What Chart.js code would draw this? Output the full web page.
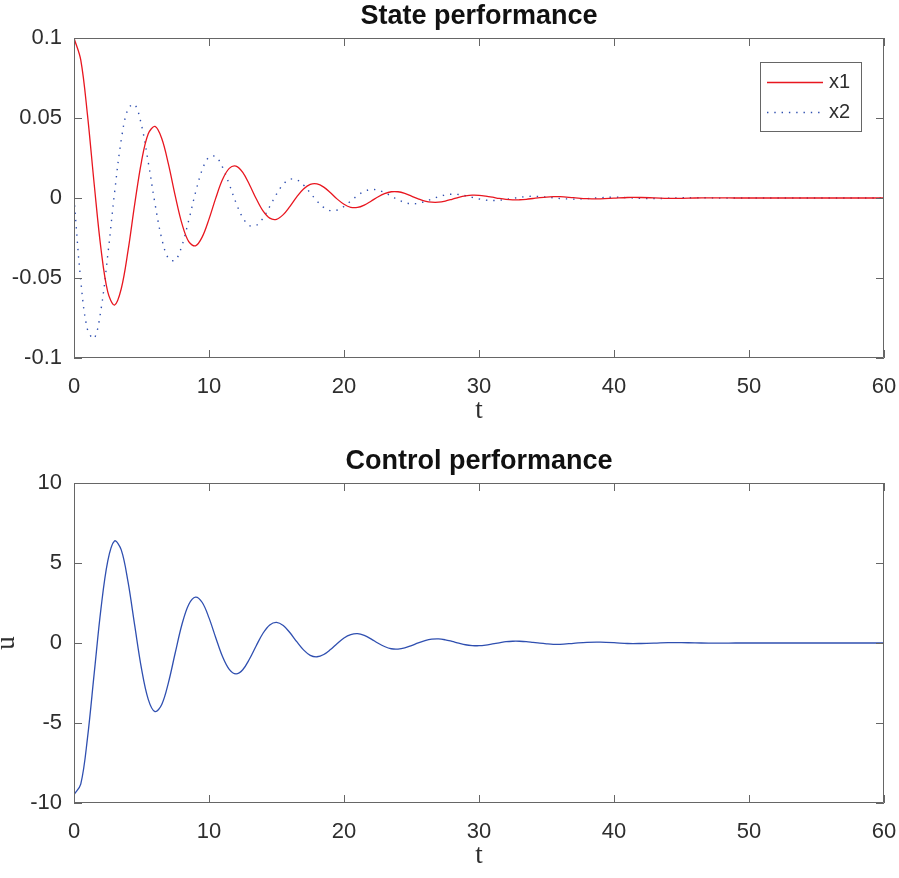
<!DOCTYPE html>
<html>
<head>
<meta charset="utf-8">
<title>State and control performance</title>
<script src="https://cdn.jsdelivr.net/npm/chart.js@4.4.0/dist/chart.umd.min.js"></script>
<style>
  html, body { margin: 0; padding: 0; background: #fff; overflow: hidden; }
  #wrap { position: relative; width: 899px; height: 878px; overflow: hidden; }
  canvas { position: absolute; left: 0; }
  #stateChart { top: 0; }
  #controlChart { top: 445px; }
</style>
</head>
<body>
<div id="wrap">
  <canvas id="stateChart" width="899" height="439"></canvas>
  <canvas id="controlChart" width="899" height="439"></canvas>
</div>
<script>
// simulation time (s)
const timeSec = [0, 0.5, 1, 1.5, 2, 2.5, 3, 3.5, 4, 4.5, 5, 5.5, 6, 6.5, 7, 7.5, 8, 8.5, 9, 9.5,
  10, 10.5, 11, 11.5, 12, 12.5, 13, 13.5, 14, 14.5, 15, 15.5, 16, 16.5, 17, 17.5, 18, 18.5, 19, 19.5,
  20, 20.5, 21, 21.5, 22, 22.5, 23, 23.5, 24, 24.5, 25, 25.5, 26, 26.5, 27, 27.5, 28, 28.5, 29, 29.5,
  30, 30.5, 31, 31.5, 32, 32.5, 33, 33.5, 34, 34.5, 35, 35.5, 36, 37, 38, 39, 40, 41, 42, 43, 44, 45,
  46, 47, 48, 49, 50, 51, 52, 53, 54, 55, 56, 57, 58, 59, 60];

// state x1
const x1 = [0.1000, 0.0863, 0.0518, 0.0083, -0.0319, -0.0587, -0.0669, -0.0567, -0.0331, -0.0037,
  0.0228, 0.0401, 0.0447, 0.0372, 0.0210, 0.0013, -0.0162, -0.0273, -0.0299, -0.0243,
  -0.0132, -0.0001, 0.0115, 0.0185, 0.0199, 0.0160, 0.0083, -0.0005, -0.0081, -0.0126,
  -0.0133, -0.0104, -0.0052, 0.0007, 0.0056, 0.0085, 0.0088, 0.0068, 0.0033, -0.0007,
  -0.0039, -0.0058, -0.0059, -0.0044, -0.0020, 0.0006, 0.0027, 0.0039, 0.0039, 0.0029,
  0.0012, -0.0005, -0.0019, -0.0026, -0.0026, -0.0019, -0.0008, 0.0004, 0.0013, 0.0018,
  0.0017, 0.0012, 0.0005, -0.0003, -0.0009, -0.0012, -0.0011, -0.0008, -0.0003, 0.0002,
  0.0006, 0.0008, 0.0008, 0.0002, -0.0004, -0.0005, -0.0001, 0.0003, 0.0003, 0.0001, -0.0002, -0.0002,
  0, 0.0001, 0.0001, 0, 0, 0, 0, 0, 0, 0, 0, 0, 0, 0, 0];

// state x2
const x2 = [0, -0.0515, -0.0822, -0.0877, -0.0697, -0.0358, 0.0030, 0.0363, 0.0557, 0.0584,
  0.0455, 0.0224, -0.0036, -0.0254, -0.0378, -0.0389, -0.0297, -0.0139, 0.0034, 0.0177,
  0.0256, 0.0258, 0.0193, 0.0086, -0.0030, -0.0123, -0.0173, -0.0171, -0.0126, -0.0053,
  0.0024, 0.0086, 0.0117, 0.0114, 0.0082, 0.0032, -0.0019, -0.0059, -0.0079, -0.0075,
  -0.0053, -0.0019, 0.0015, 0.0041, 0.0053, 0.0050, 0.0034, 0.0012, -0.0011, -0.0028,
  -0.0036, -0.0033, -0.0022, -0.0007, 0.0008, 0.0019, 0.0024, 0.0022, 0.0014, 0.0004,
  -0.0006, -0.0013, -0.0016, -0.0014, -0.0009, -0.0002, 0.0004, 0.0009, 0.0011, 0.0009,
  0.0006, 0.0001, -0.0003, -0.0007, -0.0004, 0.0002, 0.0005, 0.0002, -0.0002, -0.0003, -0.0002, 0.0001,
  0.0002, 0.0001, -0.0001, 0, 0, 0, 0, 0, 0, 0, 0, 0, 0, 0, 0];

// control input u
const u = [-9.48, -8.82, -5.93, -1.87, 2.16, 5.12, 6.38, 5.82, 3.83, 1.08,
  -1.60, -3.52, -4.29, -3.84, -2.46, -0.61, 1.17, 2.41, 2.87, 2.53,
  1.57, 0.33, -0.85, -1.65, -1.93, -1.67, -1.00, -0.17, 0.61, 1.13,
  1.29, 1.09, 0.64, 0.08, -0.43, -0.77, -0.86, -0.72, -0.41, -0.03,
  0.31, 0.52, 0.58, 0.47, 0.26, 0.00, -0.22, -0.36, -0.38, -0.31,
  -0.16, 0.01, 0.15, 0.24, 0.26, 0.20, 0.10, -0.01, -0.11, -0.16,
  -0.17, -0.13, -0.06, 0.01, 0.08, 0.11, 0.11, 0.09, 0.04, -0.01,
  -0.05, -0.08, -0.08, -0.02, 0.04, 0.05, 0.02, -0.03, -0.03, -0.01, 0.02, 0.02,
  0.01, -0.01, -0.01, 0, 0, 0, 0, 0, 0, 0, 0, 0, 0, 0, 0];

// axis ticks
const tTicks = [0, 10, 20, 30, 40, 50, 60];
const stateTicks = [-0.1, -0.05, 0, 0.05, 0.1];
const controlTicks = [-10, -5, 0, 5, 10];

const textColor = '#2e2e2e';
const titleColor = '#111111';
const axisColor = '#666666';
const sans = "'Liberation Sans', Arial, Helvetica, sans-serif";
const serif = "'Liberation Serif', 'Times New Roman', serif";

const pairs = (ys) => timeSec.map((t, i) => ({ x: t, y: ys[i] }));

// axes box with inward tick marks on all four sides
const boxTicks = {
  id: 'boxTicks',
  afterDatasetsDraw(chart) {
    const { ctx, chartArea: a, scales } = chart;
    const len = 8;
    ctx.save();
    ctx.strokeStyle = axisColor;
    ctx.lineWidth = 1;
    ctx.setLineDash([]);
    ctx.beginPath();
    ctx.rect(a.left + 0.5, a.top + 0.5, a.right - a.left - 1, a.bottom - a.top - 1);
    scales.x.ticks.forEach(t => {
      const px = Math.round(scales.x.getPixelForValue(t.value)) + 0.5;
      ctx.moveTo(px, a.bottom); ctx.lineTo(px, a.bottom - len);
      ctx.moveTo(px, a.top); ctx.lineTo(px, a.top + len);
    });
    scales.y.ticks.forEach(t => {
      const py = Math.round(scales.y.getPixelForValue(t.value)) + 0.5;
      ctx.moveTo(a.left, py); ctx.lineTo(a.left + len, py);
      ctx.moveTo(a.right, py); ctx.lineTo(a.right - len, py);
    });
    ctx.stroke();
    ctx.restore();
  }
};

// boxed legend in the upper right corner of the plot area
const boxLegend = {
  id: 'boxLegend',
  afterDraw(chart, args, opts) {
    if (!opts.show) return;
    const { ctx, chartArea: a } = chart;
    const items = chart.data.datasets;
    const w = 101, rowH = 30, pad = 4.5;
    const h = rowH * items.length + pad * 2;
    const x0 = a.right - 23 - w;
    const y0 = a.top + 24;
    ctx.save();
    ctx.fillStyle = '#ffffff';
    ctx.fillRect(x0, y0, w, h);
    ctx.strokeStyle = axisColor;
    ctx.lineWidth = 1;
    ctx.strokeRect(x0 + 0.5, y0 + 0.5, w, h);
    ctx.font = '20px ' + sans;
    ctx.textBaseline = 'middle';
    items.forEach((ds, i) => {
      const cy = Math.round(y0 + pad + rowH * (i + 0.5)) + 0.5;
      ctx.strokeStyle = ds.borderColor;
      ctx.lineWidth = ds.borderWidth;
      ctx.setLineDash(ds.legendDash || []);
      ctx.beginPath();
      ctx.moveTo(x0 + 7, cy);
      ctx.lineTo(x0 + 63, cy);
      ctx.stroke();
      ctx.setLineDash([]);
      ctx.fillStyle = textColor;
      ctx.fillText(ds.label, x0 + 69, cy);
    });
    ctx.restore();
  }
};

function makePlot(id, datasets, cfg) {
  return new Chart(document.getElementById(id), {
    type: 'line',
    data: { datasets },
    options: {
      responsive: false,
      animation: false,
      events: [],
      layout: { padding: { left: 0, right: 15, top: 0, bottom: 0 } },
      elements: { point: { radius: 0 }, line: { tension: 0.35 } },
      scales: {
        x: {
          type: 'linear',
          min: 0,
          max: 60,
          afterBuildTicks: s => { s.ticks = tTicks.map(v => ({ value: v })); },
          afterFit: s => { s.height = 81; s.paddingLeft = 0; s.paddingRight = 0; },
          grid: { display: false, drawTicks: false },
          border: { display: false },
          ticks: { color: textColor, font: { family: sans, size: 22 }, padding: 16, autoSkip: false, maxRotation: 0 },
          title: { display: true, text: 't', color: textColor, font: { family: serif, size: 27 }, padding: { top: 0, bottom: 12 } }
        },
        y: {
          type: 'linear',
          min: cfg.yTicks[0],
          max: cfg.yTicks[cfg.yTicks.length - 1],
          afterBuildTicks: s => { s.ticks = cfg.yTicks.map(v => ({ value: v })); },
          afterFit: s => { s.width = 74; s.paddingTop = 0; s.paddingBottom = 0; },
          grid: { display: false, drawTicks: false },
          border: { display: false },
          ticks: { color: textColor, font: { family: sans, size: 22 }, padding: 12, autoSkip: false,
                   callback: v => String(+v.toFixed(3)) },
          title: cfg.yTitle
            ? { display: true, text: cfg.yTitle, color: textColor, font: { family: serif, size: 27, lineHeight: 1 }, padding: { top: -7, bottom: 0 } }
            : { display: false }
        }
      },
      plugins: {
        legend: { display: false },
        tooltip: { enabled: false },
        title: {
          display: true,
          fullSize: false,
          text: cfg.title,
          color: titleColor,
          font: { family: sans, size: 27, weight: 'bold', lineHeight: 1.2 },
          padding: { top: 0, bottom: 5.6 }
        },
        boxLegend: { show: !!cfg.legend }
      }
    },
    plugins: [boxTicks, boxLegend]
  });
}

makePlot('stateChart', [
  { label: 'x1', data: pairs(x1), borderColor: '#e8161f', borderWidth: 1.3 },
  { label: 'x2', data: pairs(x2), borderColor: '#2f4fb0', borderWidth: 1.4,
    borderDash: [1.4, 5.9], legendDash: [1.4, 5.9] }
], { title: 'State performance', yTicks: stateTicks, legend: true });

makePlot('controlChart', [
  { label: 'u', data: pairs(u), borderColor: '#2f4fb0', borderWidth: 1.3 }
], { title: 'Control performance', yTicks: controlTicks, yTitle: 'u' });
</script>
</body>
</html>
